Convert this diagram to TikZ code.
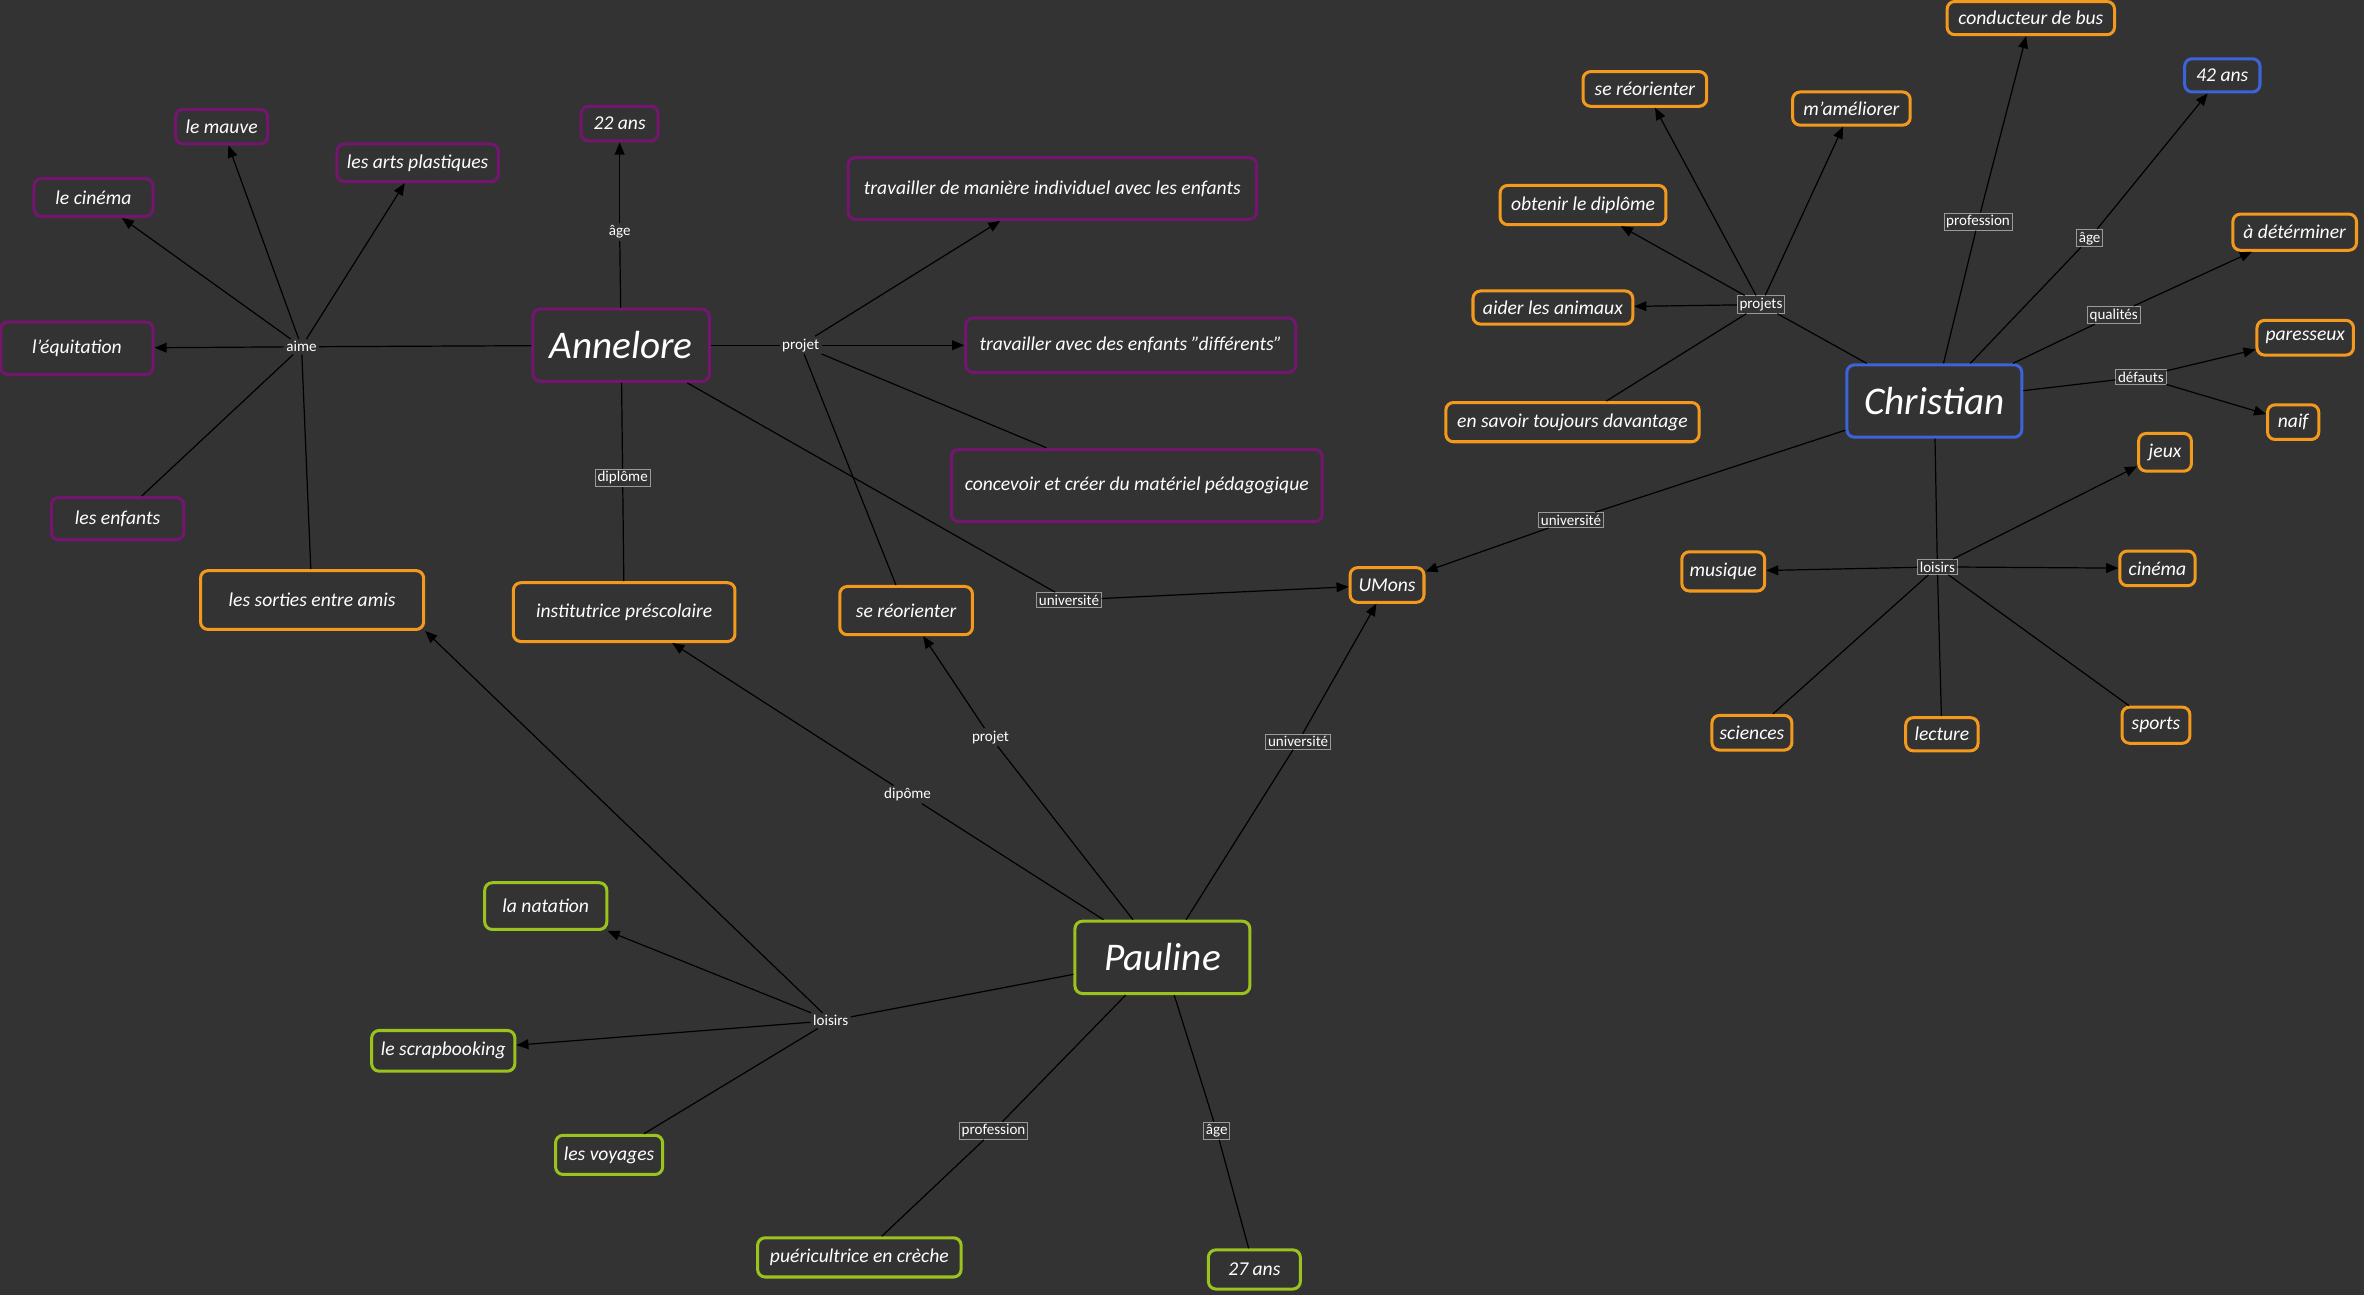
\documentclass[tikz,border=0pt]{standalone}
\usepackage{fontspec}
\setmainfont{Carlito}
\usetikzlibrary{arrows.meta}
\definecolor{bg}{HTML}{333333}
\definecolor{purp}{HTML}{74156F}
\definecolor{oran}{HTML}{F39A1E}
\definecolor{gree}{HTML}{9AC31E}
\definecolor{blu}{HTML}{3D63D9}
\definecolor{lbox}{HTML}{9A9A9A}
\tikzset{
  cnode/.style={rounded corners=5pt, line width=2pt, fill=bg, text=white,
    font=\itshape\fontsize{13}{15}\selectfont, inner sep=0pt, align=center},
  big/.style={font=\itshape\fontsize{26}{29}\selectfont},
  pu/.style={cnode, draw=purp},
  og/.style={cnode, draw=oran},
  gn/.style={cnode, draw=gree},
  bu/.style={cnode, draw=blu},
  sz/.style 2 args={minimum width=#1pt, minimum height=#2pt},
  lab/.style={fill=bg, text=white, font=\fontsize{10}{12}\selectfont, inner sep=1.5pt},
  blab/.style={lab, draw=lbox, line width=0.5pt},
  con/.style={draw=black, line width=0.8pt},
  arr/.style={con, -{Triangle[length=8pt,width=6.5pt]}}
}
\begin{document}
\begin{tikzpicture}[x=1pt,y=-1pt]
\useasboundingbox[fill=bg] (0,0) rectangle (1568,859);

% ---------- Annelore ----------
\node[pu,big,sz={117}{48}] (ann) at (412,229) {Annelore};
\node[pu,sz={61}{23}] (mauve) at (147,84) {le mauve};
\node[pu,sz={107}{25}] (arts) at (277,108) {les arts plastiques};
\node[pu,sz={79}{25}] (cinA) at (62,131) {le cinéma};
\node[pu,sz={101}{35}] (equi) at (51,231) {l'équitation};
\node[pu,sz={88}{28}] (enf) at (78,344) {les enfants};
\node[pu,sz={51}{23}] (a22) at (411,82) {22 ans};
\node[og,sz={147}{39}] (inst) at (414,406) {institutrice préscolaire};
\node[og,sz={148}{39}] (sort) at (207,398) {les sorties entre amis};
\node[pu,sz={271}{41}] (trav1) at (698,125) {travailler de manière individuel avec les enfants};
\node[pu,sz={219}{36}] (trav2) at (750,229) {travailler avec des enfants "différents"};
\node[pu,sz={246}{48}] (conc) at (754,322) {concevoir et créer du matériel pédagogique};
\node[og,sz={88}{32}] (reoA) at (601,405) {se réorienter};
\node[og,sz={49}{23}] (umons) at (920,388) {UMons};

\node[lab] (aime) at (200,230) {aime};
\node[lab] (ageA) at (411,154) {âge};
\node[blab] (diplA) at (413,317) {diplôme};
\node[lab] (projA) at (531,229) {projet};
\node[blab] (univA) at (709,398) {université};

\draw[con] (ann) -- (aime);
\draw[arr] (aime) -- (mauve);
\draw[arr] (aime) -- (arts);
\draw[arr] (aime) -- (cinA);
\draw[arr] (aime) -- (equi);
\draw[con] (aime) -- (enf);
\draw[con] (aime) -- (sort);
\draw[con] (ann) -- (ageA);
\draw[arr] (ageA) -- (a22);
\draw[con] (ann) -- (diplA);
\draw[con] (diplA) -- (inst);
\draw[con] (ann) -- (projA);
\draw[arr] (projA) -- (trav1);
\draw[arr] (projA) -- (trav2);
\draw[con] (projA) -- (conc);
\draw[con] (projA) -- (reoA);
\draw[con] (ann) -- (univA);
\draw[arr] (univA) -- (umons);

% ---------- Pauline ----------
\node[gn,big,sz={116}{48}] (paul) at (771,635) {Pauline};
\node[gn,sz={81}{31}] (nat) at (362,601) {la natation};
\node[gn,sz={95}{27}] (scrap) at (294,697) {le scrapbooking};
\node[gn,sz={71}{26}] (voy) at (404,766) {les voyages};
\node[gn,sz={135}{26}] (puer) at (570,834) {puéricultrice en crèche};
\node[gn,sz={61}{26}] (a27) at (832,842) {27 ans};

\node[lab] (projP) at (657,489) {projet};
\node[lab] (diplP) at (602,527) {dipôme};
\node[blab] (univP) at (861,492) {université};
\node[lab] (loisP) at (551,677) {loisirs};
\node[blab] (profP) at (659,750) {profession};
\node[blab] (ageP) at (807,750) {âge};

\draw[con] (paul) -- (projP);
\draw[arr] (projP) -- (reoA);
\draw[con] (paul) -- (diplP);
\draw[arr] (diplP) -- (inst);
\draw[con] (paul) -- (univP);
\draw[arr] (univP) -- (umons);
\draw[con] (paul) -- (loisP);
\draw[arr] (loisP) -- (nat);
\draw[arr] (loisP) -- (scrap);
\draw[con] (loisP) -- (voy);
\draw[arr] (loisP) -- (sort.south east);
\draw[con] (paul) -- (profP);
\draw[con] (profP) -- (puer);
\draw[con] (paul) -- (ageP);
\draw[con] (ageP) -- (a27);

% ---------- Christian ----------
\node[bu,big,sz={116}{48}] (chr) at (1283,266) {Christian};
\node[og,sz={111}{22}] (bus) at (1347,12) {conducteur de bus};
\node[bu,sz={50}{22}] (a42) at (1474,50) {42 ans};
\node[og,sz={82}{24}] (deter) at (1522,154) {à détérminer};
\node[og,sz={64}{23}] (pares) at (1529,224) {paresseux};
\node[og,sz={34}{23}] (naif) at (1521,280) {naif};
\node[og,sz={82}{23}] (reoC) at (1091,59) {se réorienter};
\node[og,sz={78}{22}] (amel) at (1228,72) {m'améliorer};
\node[og,sz={110}{26}] (obt) at (1050,136) {obtenir le diplôme};
\node[og,sz={106}{22}] (aider) at (1030,204) {aider les animaux};
\node[og,sz={168}{26}] (savoir) at (1043,280) {en savoir toujours davantage};
\node[og,sz={35}{25}] (jeux) at (1436,300) {jeux};
\node[og,sz={55}{26}] (mus) at (1143,379) {musique};
\node[og,sz={50}{23}] (cinC) at (1431,377) {cinéma};
\node[og,sz={53}{23}] (sci) at (1162,486) {sciences};
\node[og,sz={48}{22}] (lect) at (1288,487) {lecture};
\node[og,sz={45}{24}] (spo) at (1430,481) {sports};

\node[blab] (profC) at (1312,147) {profession};
\node[blab] (ageC) at (1386,158) {âge};
\node[blab] (qualC) at (1402,209) {qualités};
\node[blab] (defC) at (1420,250) {défauts};
\node[blab] (projC) at (1168,202) {projets};
\node[blab] (univC) at (1042,345) {université};
\node[blab] (loisC) at (1285,376) {loisirs};

\draw[con] (chr) -- (profC);
\draw[arr] (profC) -- (bus);
\draw[con] (chr) -- (ageC);
\draw[arr] (ageC) -- (a42);
\draw[con] (chr) -- (qualC);
\draw[arr] (qualC) -- (deter);
\draw[con] (chr) -- (defC);
\draw[arr] (defC) -- (pares);
\draw[arr] (defC) -- (naif);
\draw[con] (chr) -- (projC);
\draw[arr] (projC) -- (reoC);
\draw[arr] (projC) -- (amel);
\draw[arr] (projC) -- (obt);
\draw[arr] (projC) -- (aider);
\draw[con] (projC) -- (savoir);
\draw[con] (chr) -- (univC);
\draw[arr] (univC) -- (umons);
\draw[con] (chr) -- (loisC);
\draw[arr] (loisC) -- (jeux);
\draw[arr] (loisC) -- (mus);
\draw[arr] (loisC) -- (cinC);
\draw[con] (loisC) -- (sci);
\draw[con] (loisC) -- (lect);
\draw[con] (loisC) -- (spo);
\end{tikzpicture}
\end{document}
